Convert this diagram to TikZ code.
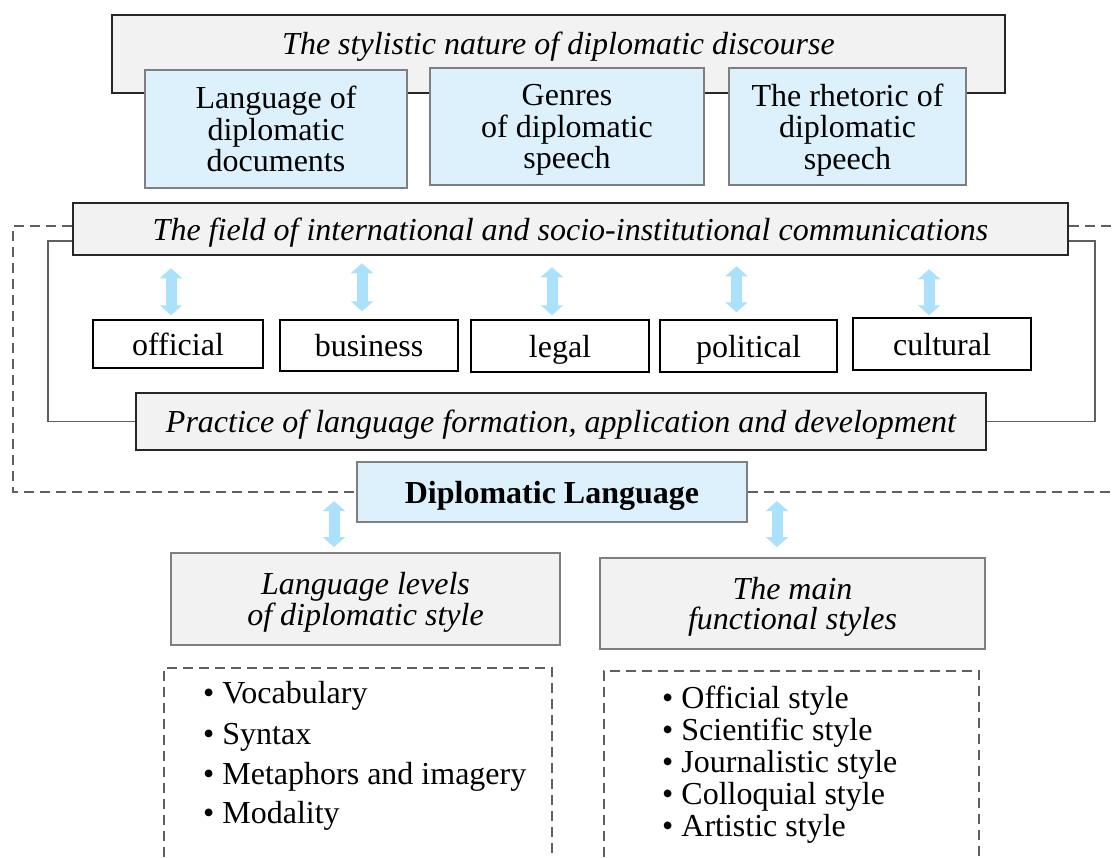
\documentclass[tikz,border=0pt]{standalone}
\usepackage{fontspec}
\setmainfont{Liberation Serif}
\usetikzlibrary{arrows.meta,calc}
\definecolor{edgedark}{HTML}{262626}
\definecolor{edgegrey}{HTML}{7F7F7F}
\definecolor{panelgrey}{HTML}{F2F2F2}
\definecolor{paleblue}{HTML}{DDF1FC}
\definecolor{arrowblue}{HTML}{ABE1FA}
\definecolor{linkgrey}{HTML}{5F5F5F}
\tikzset{
  base/.style={font=\fontsize{32}{31.5}\selectfont, align=center, inner sep=0pt, line width=1.5pt},
  oneline/.style={text height=22pt, text depth=0pt},
  greybox/.style={base, oneline, draw=edgedark, fill=panelgrey, font=\fontsize{32}{31.5}\selectfont\itshape},
  bluebox/.style={base, text depth=0pt, draw=edgegrey, fill=paleblue},
  tagbox/.style={base, oneline, draw=black, fill=white},
  stylebox/.style={base, text depth=0pt, draw=edgegrey, fill=panelgrey, line width=1.8pt, font=\fontsize{32}{30.5}\selectfont\itshape},
  link/.style={draw=linkgrey, line width=1.5pt},
  dashlink/.style={draw=linkgrey, line width=1.5pt, dash pattern=on 10pt off 6pt},
  dbl/.style={draw=arrowblue, line width=11pt,
    {Triangle[width=22pt,length=10pt]}-{Triangle[width=22pt,length=10pt]}},
  listtext/.style={font=\fontsize{32}{32}\selectfont, anchor=west, inner sep=0pt}
}
\begin{document}
\begin{tikzpicture}[x=1pt,y=-1pt]
\useasboundingbox (0,0) rectangle (1115,857);

% corner and open ends of the dashed frame
\coordinate (dl) at (13,492);
\coordinate (dr1) at (1115,226);
\coordinate (dr2) at (1115,492);

% top: stylistic nature panel
\node[greybox, minimum width=893pt, minimum height=78pt] (nature) at (558.5,54) {};
\node[oneline, font=\fontsize{32}{31.5}\selectfont\itshape, inner sep=0pt] (naturetxt) at (558.5,43) {The stylistic nature of diplomatic discourse};

\node[bluebox, minimum width=262pt, minimum height=118pt] (docs) at (276,129) {Language of\\diplomatic\\documents};
\node[bluebox, minimum width=274pt, minimum height=117pt] (genres) at (567,126.5) {Genres\\of diplomatic\\speech};
\node[bluebox, minimum width=237pt, minimum height=117pt] (rhet) at (847.5,126.5) {The rhetoric of\\diplomatic\\speech};

% field of communications and practice
\node[greybox, minimum width=995pt, minimum height=52pt] (field) at (570.5,229) {The field of international and socio-institutional communications};
\node[greybox, minimum width=850pt, minimum height=57pt] (practice) at (561,421.5) {Practice of language formation, application and development};

\node[tagbox, minimum width=170pt, minimum height=48pt] (official) at (178,344) {official};
\node[tagbox, minimum width=178pt, minimum height=51pt] (business) at (369,345.5) {business};
\node[tagbox, minimum width=178pt, minimum height=52pt] (legal) at (560,346) {legal};
\node[tagbox, minimum width=177pt, minimum height=52pt] (political) at (748.5,346) {political};
\node[tagbox, minimum width=178pt, minimum height=52pt] (cultural) at (942,344) {cultural};

\node[bluebox, oneline, minimum width=390pt, minimum height=60pt, font=\fontsize{32}{31.5}\selectfont\bfseries] (diplo) at (552,492) {Diplomatic Language};

\node[stylebox, minimum width=389pt, minimum height=92pt] (levels) at (365.5,599) {Language levels\\of diplomatic style};
\node[stylebox, minimum width=385pt, minimum height=91pt] (mainst) at (792.5,603.5) {The main\\functional styles};

% connectors
\draw[link] ([yshift=-12pt]field.west) -| (48,421.5) -- (practice.west);
\draw[link] ([yshift=-12pt]field.east) -| (1095,421.5) -- (practice.east);
\draw[dashlink] ([yshift=3pt]field.west) -| (dl) -- (diplo.west);
\draw[dashlink] ([yshift=3pt]field.east) -- (dr1);
\draw[dashlink] (diplo.east) -- (dr2);

\draw[dbl] ($(official.north)+(-7,-4)$) -- ($(official.north)+(-7,-51)$);
\draw[dbl] ($(business.north)+(-7,-8)$) -- ($(business.north)+(-7,-56)$);
\draw[dbl] ($(legal.north)+(-8,-4)$) -- ($(legal.north)+(-8,-52)$);
\draw[dbl] ($(political.north)+(-12,-7)$) -- ($(political.north)+(-12,-53)$);
\draw[dbl] ($(cultural.north)+(-13,-2)$) -- ($(cultural.north)+(-13,-48)$);
\draw[dbl] ($(levels.north)+(-31.5,-5)$) -- ($(levels.north)+(-31.5,-51)$);
\draw[dbl] ($(mainst.north)+(-15.5,-10)$) -- ($(mainst.north)+(-15.5,-56)$);

% dashed lists, open at the lower edge
\draw[dashlink] (164,857) -- (164,668) -- (552,668) -- (552,857);
\draw[dashlink] (604,857) -- (604,671) -- (979,671) -- (979,857);

\node[listtext] (l1) at (203,696) {• Vocabulary};
\node[listtext] (l2) at (203,737) {• Syntax};
\node[listtext] (l3) at (203,777) {• Metaphors and imagery};
\node[listtext] (l4) at (203,816) {• Modality};

\node[listtext] (r1) at (662,701) {• Official style};
\node[listtext] (r2) at (662,733) {• Scientific style};
\node[listtext] (r3) at (662,765) {• Journalistic style};
\node[listtext] (r4) at (662,797) {• Colloquial style};
\node[listtext] (r5) at (662,829) {• Artistic style};
\end{tikzpicture}
\end{document}
